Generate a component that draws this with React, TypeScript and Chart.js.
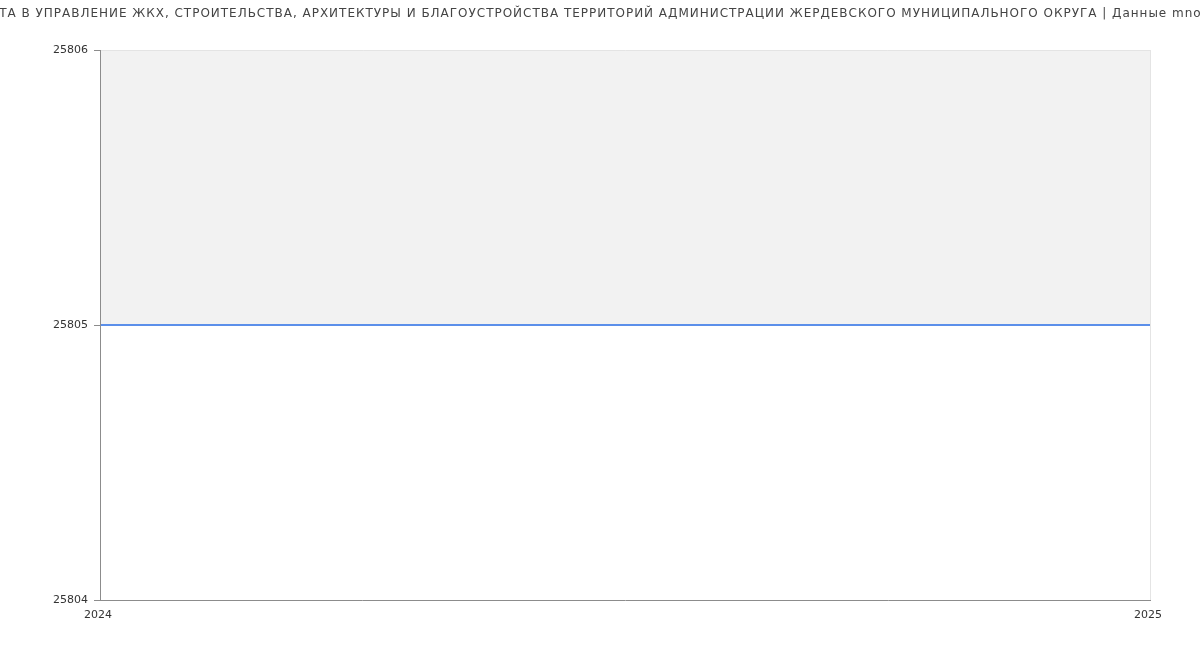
import React, { useEffect, useRef } from 'react';
import { Chart, registerables } from 'chart.js';

Chart.register(...registerables);

// данные графика
const years: number[] = [2024, 2025];
const salary: number[] = [25805, 25805];
const yTicks: number[] = [25804, 25805, 25806];

const chartTitle =
  'ЗАРПЛАТА В УПРАВЛЕНИЕ ЖКХ, СТРОИТЕЛЬСТВА, АРХИТЕКТУРЫ И БЛАГОУСТРОЙСТВА ТЕРРИТОРИЙ АДМИНИСТРАЦИИ ЖЕРДЕВСКОГО МУНИЦИПАЛЬНОГО ОКРУГА | Данные mnogo.work';

// заголовок с разрядкой букв (у стандартного title её нет)
const spacedTitle = {
  id: 'spacedTitle',
  afterDraw(chart: any) {
    const ctx = chart.ctx;
    ctx.save();
    ctx.font = '12px "DejaVu Sans", sans-serif';
    (ctx as any).letterSpacing = '0.98px';
    ctx.fillStyle = '#444';
    ctx.textAlign = 'center';
    ctx.textBaseline = 'middle';
    ctx.fillText(chartTitle, chart.width / 2, 13.5);
    ctx.restore();
  },
};

const lightGrid = '#e4e4e4';
const axisGrey = '#8c8c8c';

const App: React.FC = () => {
  const canvasRef = useRef<HTMLCanvasElement>(null);

  useEffect(() => {
    document.body.style.margin = '0';
    if (!canvasRef.current) return;

    const font = { family: '"DejaVu Sans", sans-serif', size: 11 };

    const myChart = new Chart(canvasRef.current, {
      type: 'line',
      data: {
        datasets: [
          {
            label: 'Зарплата',
            data: years.map((y, i) => ({ x: y, y: salary[i] })),
            borderColor: '#5b8fea',
            borderWidth: 2,
            backgroundColor: '#f2f2f2',
            fill: 'end',
            pointRadius: 0,
            tension: 0,
          },
        ],
      },
      options: {
        responsive: false,
        animation: false,
        layout: { padding: { left: 0, right: 50, top: 50, bottom: 0 } },
        plugins: {
          legend: { display: false },
          tooltip: { enabled: false },
          title: { display: false },
        },
        scales: {
          x: {
            type: 'linear',
            min: years[0],
            max: years[years.length - 1],
            afterFit: (scale: any) => {
              scale.height = 50;
            },
            grid: {
              z: 1,
              color: (c: any) =>
                c.tick && c.tick.value === years[years.length - 1] ? lightGrid : 'rgba(0,0,0,0)',
              drawTicks: false,
            },
            border: { color: axisGrey, width: 1, z: 2 },
            ticks: {
              stepSize: 1,
              padding: 9,
              labelOffset: -2,
              color: '#333',
              font,
              callback: (v: any) => String(v),
            },
          },
          y: {
            type: 'linear',
            min: yTicks[0],
            max: yTicks[yTicks.length - 1],
            afterFit: (scale: any) => {
              scale.width = 100;
            },
            afterBuildTicks: (scale: any) => {
              scale.ticks = yTicks.map((v) => ({ value: v }));
            },
            grid: {
              z: 1,
              color: (c: any) =>
                c.tick && c.tick.value === yTicks[yTicks.length - 1] ? lightGrid : 'rgba(0,0,0,0)',
              tickColor: axisGrey,
              tickLength: 6,
            },
            border: { color: axisGrey, width: 1, z: 2 },
            ticks: {
              padding: 6,
              color: '#333',
              font,
              callback: (v: any) => String(v),
            },
          },
        },
      },
      plugins: [spacedTitle],
    } as any);

    return () => {
      myChart.destroy();
    };
  }, []);

  return (
    <div style={{ position: 'absolute', left: 0, top: 0, width: 1200, height: 650, background: '#fff' }}>
      <canvas ref={canvasRef} width={1200} height={650} style={{ width: 1200, height: 650 }} />
    </div>
  );
};

export default App;
